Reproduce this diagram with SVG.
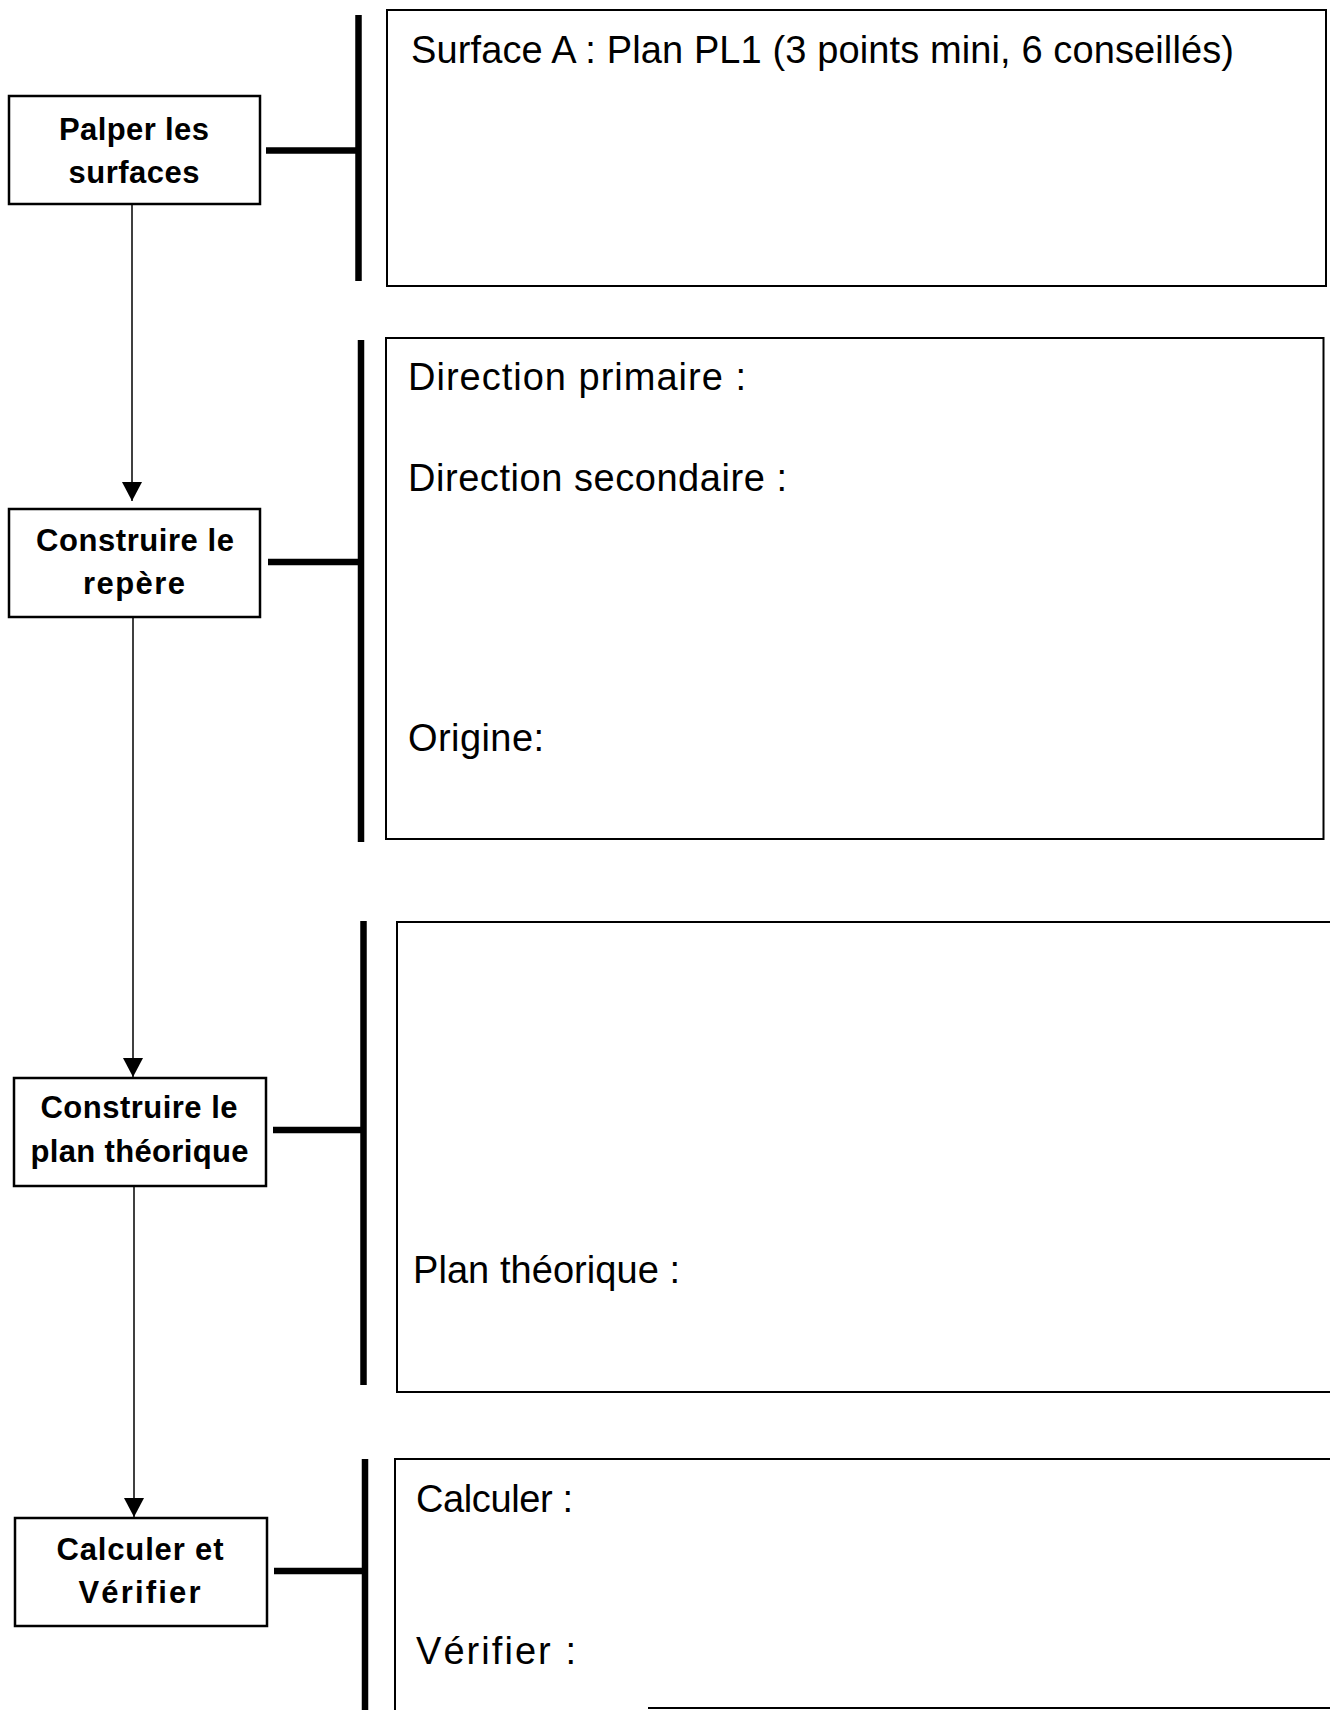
<svg xmlns="http://www.w3.org/2000/svg" width="1330" height="1710" viewBox="0 0 1330 1710">
<style>
.step{fill:#fff;stroke:#000;stroke-width:2.5}
.panel{fill:#fff;stroke:#000;stroke-width:2}
.lbl{font-family:"Liberation Sans",Arial,sans-serif;font-weight:bold;font-size:31px;fill:#000;text-anchor:middle}
.txt{font-family:"Liberation Sans",Arial,sans-serif;font-size:38px;fill:#000}
.flow{stroke:#000;stroke-width:1.5;fill:none;marker-end:url(#arr)}
.thick{stroke:#000;stroke-width:6.5;fill:none}
</style>
<defs>
<marker id="arr" markerUnits="userSpaceOnUse" markerWidth="19" markerHeight="20" refX="19" refY="10" orient="auto" viewBox="0 0 19 20">
<path d="M0,0 L19,10 L0,20 Z" fill="#000"/>
</marker>
</defs>
<rect width="1330" height="1710" fill="#fff"/>

<g id="connectors">
<line class="flow" x1="132" y1="204" x2="132" y2="501"/>
<line class="flow" x1="133" y1="617" x2="133" y2="1077"/>
<line class="flow" x1="134" y1="1186" x2="134" y2="1517"/>

<line class="thick" x1="266" y1="150.5" x2="359" y2="150.5"/>
<line class="thick" x1="358.5" y1="15" x2="358.5" y2="281"/>
<line class="thick" x1="268" y1="562" x2="361" y2="562"/>
<line class="thick" x1="361" y1="340" x2="361" y2="842"/>
<line class="thick" x1="273" y1="1130" x2="364" y2="1130"/>
<line class="thick" x1="363.5" y1="921" x2="363.5" y2="1385"/>
<line class="thick" x1="274" y1="1571" x2="365" y2="1571"/>
<line class="thick" x1="365" y1="1459" x2="365" y2="1712"/>
</g>

<g id="node-palper">
<rect class="step" x="9" y="96" width="251" height="108"/>
<text class="lbl" x="134" y="140" textLength="150">Palper les</text>
<text class="lbl" x="134" y="183" textLength="131">surfaces</text>
</g>

<g id="node-repere">
<rect class="step" x="9" y="509" width="251" height="108"/>
<text class="lbl" x="135" y="551" textLength="198">Construire le</text>
<text class="lbl" x="134" y="594" textLength="102">repère</text>
</g>

<g id="node-plan">
<rect class="step" x="14" y="1078" width="252" height="108"/>
<text class="lbl" x="139" y="1118" textLength="197">Construire le</text>
<text class="lbl" x="139.5" y="1162" textLength="218">plan théorique</text>
</g>

<g id="node-calc">
<rect class="step" x="15" y="1518" width="252" height="108"/>
<text class="lbl" x="140" y="1560" textLength="167">Calculer et</text>
<text class="lbl" x="139.5" y="1603" textLength="122">Vérifier</text>
</g>

<g id="panel-surface">
<rect class="panel" x="387" y="10" width="939" height="276"/>
<text class="txt" x="411" y="63" textLength="823">Surface A : Plan PL1 (3 points mini, 6 conseillés)</text>
</g>

<g id="panel-repere">
<rect class="panel" x="386" y="338" width="937.5" height="501"/>
<text class="txt" x="408" y="390" textLength="338">Direction primaire :</text>
<text class="txt" x="408" y="491" textLength="379">Direction secondaire :</text>
<text class="txt" x="408" y="751" textLength="136">Origine:</text>
</g>

<g id="panel-plan">
<rect class="panel" x="397" y="922" width="940" height="470"/>
<text class="txt" x="413" y="1283" textLength="267">Plan théorique :</text>
</g>

<g id="panel-calc">
<path class="panel" d="M395,1712 V1459 H1335"/>
<line class="panel" x1="648" y1="1708" x2="1335" y2="1708"/>
<text class="txt" x="416" y="1512" textLength="157">Calculer :</text>
<text class="txt" x="416" y="1664" textLength="160">Vérifier :</text>
</g>
</svg>
